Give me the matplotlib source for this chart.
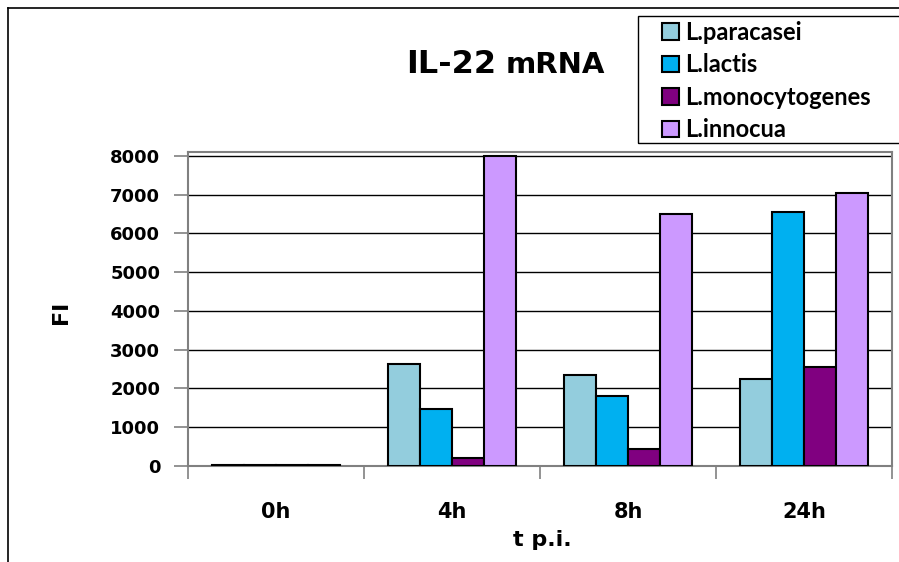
import matplotlib.pyplot as plt
import numpy as np
from matplotlib.patches import Rectangle
from matplotlib.lines import Line2D

categories = ["0h", "4h", "8h", "24h"]
series = ["L.paracasei", "L.lactis", "L.monocytogenes", "L.innocua"]
paracasei = [15, 2630, 2340, 2245]
lactis = [15, 1460, 1815, 6540]
monocytogenes = [15, 200, 440, 2550]
innocua = [15, 8000, 6500, 7040]
colors = ["#93CDDD", "#00B0F0", "#800080", "#CC99FF"]

fig = plt.figure(figsize=(8.99, 5.62), dpi=100)
ax = fig.add_axes([188 / 899, 96 / 562, 704 / 899, 314 / 562])

x = np.arange(len(categories))
w = 0.182
for i, (vals, name) in enumerate(zip([paracasei, lactis, monocytogenes, innocua], series)):
    ax.bar(x + (i - 1.5) * w, vals, w, color=colors[i], edgecolor="black",
           linewidth=1.5, label=name, zorder=3)

ax.set_xlim(-0.5, 3.5)
ax.set_ylim(0, 8100)
yt = np.arange(0, 8001, 1000)
ax.set_yticks(yt)
ax.set_yticklabels([str(v) for v in yt], fontsize=13, fontweight="bold")
for v in yt[1:]:
    ax.axhline(v, color="black", lw=1, zorder=1)

ax.set_xticks(x)
ax.set_xticklabels(categories, fontsize=15, fontweight="bold")
ax.set_xticks(np.arange(-0.5, 3.6, 1), minor=True)
ax.tick_params(axis="x", which="major", length=0, pad=26)
ax.tick_params(axis="x", which="minor", length=9, width=1.2, color="#808080")
ax.tick_params(axis="y", length=10, width=1.2, color="#808080", pad=10)

for s in ax.spines.values():
    s.set_color("#808080")
    s.set_linewidth(1.5)

fig.text(513 / 899, 1 - 540 / 562, "t p.i.", ha="left", va="center",
         fontsize=16, fontweight="bold")
fig.text(61 / 899, 1 - 312 / 562, "FI", ha="center", va="center",
         fontsize=16, fontweight="bold", rotation=90)

# title with two sizes
fig.text(406 / 899, 1 - 73 / 562, "IL-22", ha="left", va="baseline",
         fontsize=23, fontweight="bold")
fig.text(506 / 899, 1 - 73 / 562, "mRNA", ha="left", va="baseline",
         fontsize=21, fontweight="bold")

# outer chart border (cropped at right and bottom)
fig.add_artist(Line2D([8 / 899, 8 / 899], [0, 1 - 8 / 562], color="black", lw=1.2))
fig.add_artist(Line2D([8 / 899, 1], [1 - 8 / 562, 1 - 8 / 562], color="black", lw=1.2))

# legend box
fig.add_artist(Rectangle((638 / 899, 1 - 143 / 562), 300 / 899, 127 / 562,
                         transform=fig.transFigure, fill=False, edgecolor="black", lw=1))
handles, labels = ax.get_legend_handles_labels()
fig.legend(handles, labels, loc="upper left", bbox_to_anchor=(662 / 899, 1 - 21 / 562),
           frameon=False, prop={"family": "Lato", "weight": "bold", "size": 17},
           handlelength=0.7, handleheight=0.7, handletextpad=0.3,
           labelspacing=0.4, borderaxespad=0, borderpad=0)

fig.savefig("out.png", dpi=100)
